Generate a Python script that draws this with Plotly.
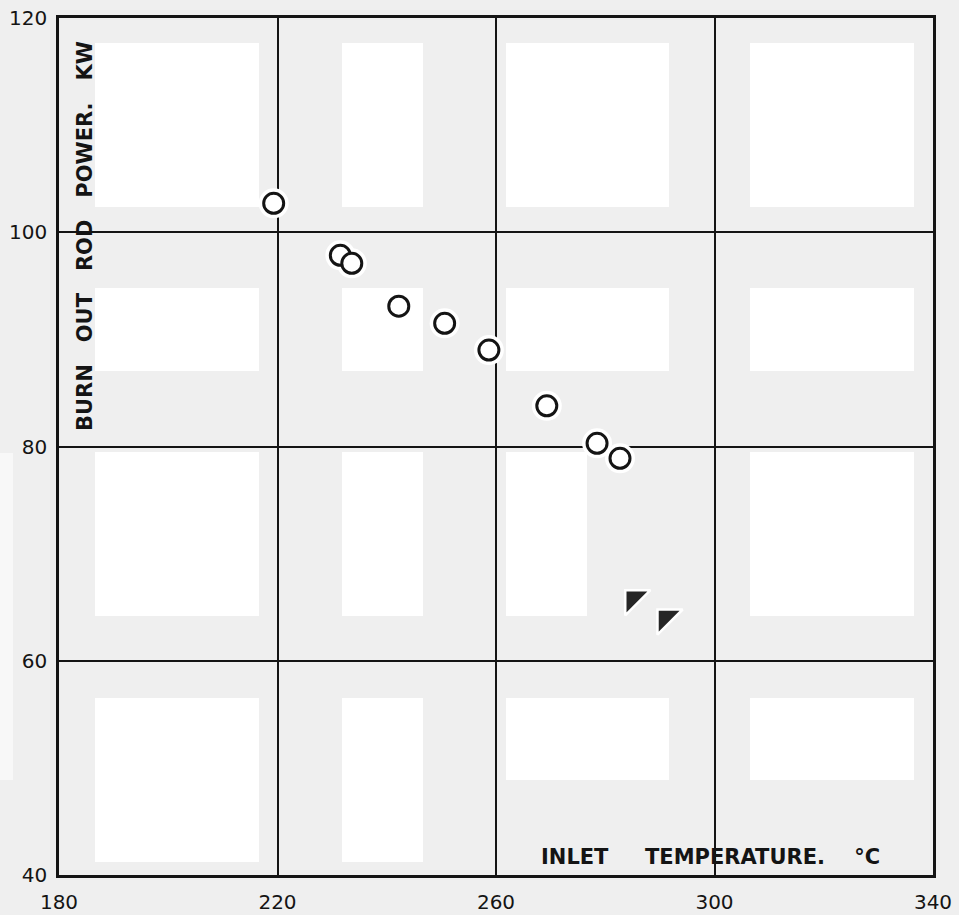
import plotly.graph_objects as go

# ---- data ----
inlet_temp_circles = [219.3, 231.5, 233.6, 242.2, 250.6, 258.7, 269.3, 278.5, 282.7]
burnout_power_circles = [102.7, 97.85, 97.1, 93.1, 91.5, 89.0, 83.8, 80.3, 78.9]
inlet_temp_triangles = [285.2, 291.1]
burnout_power_triangles = [65.8, 64.0]

x_ticks = [180, 220, 260, 300, 340]
y_ticks = [40, 60, 80, 100, 120]

W, H = 959, 915
ML, MR, MT, MB = 59, 26, 18, 40
PW, PH = W - ML - MR, H - MT - MB

BG = "#efefef"
INK = "#141414"

def px_x(px):
    return (px - ML) / PW

def px_y(py):
    return (H - MB - py) / PH

# scan artefacts: white patches in the background (pixel boxes x0, x1, y0, y1)
patches = [
    (95, 259, 43, 207), (342, 423, 43, 207), (506, 669, 43, 207), (750, 914, 43, 207),
    (95, 259, 288, 371), (342, 423, 288, 371), (506, 669, 288, 371), (750, 914, 288, 371),
    (95, 259, 452, 616), (342, 423, 452, 616), (506, 587, 452, 616), (750, 914, 452, 616),
    (95, 259, 698, 862), (342, 423, 698, 862), (506, 669, 698, 780), (750, 914, 698, 780),
]
shapes = []
for x0, x1, y0, y1 in patches:
    shapes.append(dict(type="rect", xref="paper", yref="paper",
                       x0=px_x(x0), x1=px_x(x1), y0=px_y(y1), y1=px_y(y0),
                       fillcolor="#ffffff", line=dict(width=0), layer="below"))
shapes.append(dict(type="rect", xref="paper", yref="paper",
                   x0=px_x(0), x1=px_x(13), y0=px_y(780), y1=px_y(453),
                   fillcolor="#f8f8f8", line=dict(width=0), layer="below"))

fig = go.Figure()
fig.add_trace(go.Scatter(x=inlet_temp_circles, y=burnout_power_circles, mode="markers",
                         marker=dict(symbol="circle", size=30, color="#ffffff", line=dict(width=0)),
                         hoverinfo="skip", showlegend=False))
fig.add_trace(go.Scatter(x=inlet_temp_circles, y=burnout_power_circles, mode="markers",
                         marker=dict(symbol="circle", size=20, color="#ffffff",
                                     line=dict(width=3, color=INK)),
                         showlegend=False))
fig.add_trace(go.Scatter(x=inlet_temp_triangles, y=burnout_power_triangles, mode="markers",
                         marker=dict(symbol="triangle-nw", size=28, color="#262626",
                                     line=dict(width=2.5, color="#ffffff")),
                         showlegend=False))

tick_font = dict(family="DejaVu Sans", size=20, color=INK)
title_font = dict(family="DejaVu Sans", size=21, color=INK, weight="bold")
sp = "\u00a0"

fig.update_layout(
    template="none",
    width=W, height=H,
    margin=dict(l=ML, r=MR, t=MT, b=MB, pad=0),
    paper_bgcolor=BG, plot_bgcolor="rgba(0,0,0,0)",
    shapes=shapes,
    xaxis=dict(range=[180, 340], tickvals=x_ticks, ticktext=[str(v) for v in x_ticks],
               showgrid=True, gridcolor=INK, gridwidth=2, zeroline=False, automargin=False,
               showline=True, linecolor=INK, linewidth=2.5, mirror=True,
               ticks="", tickfont=tick_font, ticklabelstandoff=7),
    yaxis=dict(range=[40, 120], tickvals=y_ticks, ticktext=[str(v) for v in y_ticks],
               showgrid=True, gridcolor=INK, gridwidth=2, zeroline=False, automargin=False,
               showline=True, linecolor=INK, linewidth=2.5, mirror=True,
               ticks="", tickfont=tick_font, ticklabelstandoff=5),
    annotations=[
        dict(text=("INLET" + sp * 5 + "TEMPERATURE." + sp * 4 + "°C"), xref="paper", yref="paper",
             x=px_x(539), y=px_y(857), xanchor="left", yanchor="middle",
             showarrow=False, font=title_font),
        dict(text=("BURN" + sp * 3 + "OUT" + sp * 3 + "ROD" + sp * 3 + "POWER." + sp * 3 + "KW"),
             xref="paper", yref="paper", x=px_x(85.5), y=px_y(236.5),
             xanchor="center", yanchor="middle", textangle=-90,
             showarrow=False, font=title_font),
    ],
)

fig.write_html("out.html",
               config={"displayModeBar": False},
               post_script="document.body.style.margin='0px';"
                           "document.body.style.background='#efefef';")
